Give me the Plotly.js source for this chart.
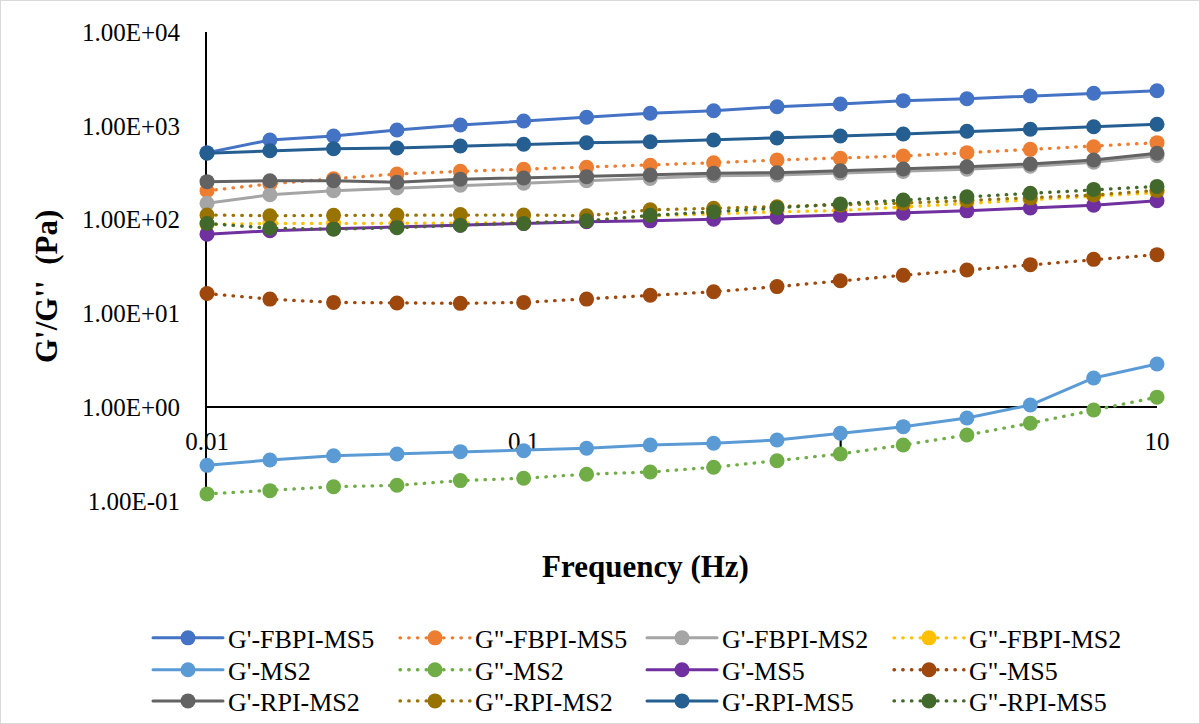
<!DOCTYPE html>
<html>
<head>
<meta charset="utf-8">
<script src="https://cdn.plot.ly/plotly-3.0.1.min.js"></script>
<style>
  html, body { margin: 0; padding: 0; background: #ffffff; }
  #wrap { position: relative; width: 1200px; height: 724px; }
  #chart { width: 1200px; height: 724px; }
  #frame { position: absolute; left: 0; top: 0; width: 1198px; height: 722px; border: 1px solid #d9d9d9; pointer-events: none; }
  #chart path.js-line { stroke-linecap: round; stroke-linejoin: round; }
</style>
</head>
<body>
<div id="wrap"><div id="chart"></div><div id="frame"></div></div>
<script>
// Frequency (Hz)
const freq = [0.01, 0.0158, 0.0251, 0.0398, 0.0631, 0.1, 0.158, 0.251, 0.398, 0.631, 1, 1.58, 2.51, 3.98, 6.31, 10];

// Series values (Pa)
const gp_FBPI_MS5  = [517, 706, 778, 902, 1020, 1125, 1233, 1359, 1449, 1599, 1708, 1853, 1945, 2078, 2222, 2367];
const gpp_FBPI_MS5 = [203, 240, 273, 306, 327, 344, 361, 379, 404, 432, 450, 477, 517, 561, 599, 661];
const gp_FBPI_MS2  = [149, 184, 203, 217, 232, 244, 260, 274, 294, 298, 313, 326, 345, 370, 408, 480];
const gpp_FBPI_MS2 = [89, 91, 91, 91, 92, 93, 96, 110, 116, 121, 125, 136, 149, 162, 179, 194];
const gp_MS2       = [0.240, 0.274, 0.304, 0.317, 0.336, 0.344, 0.365, 0.395, 0.412, 0.447, 0.527, 0.620, 0.767, 1.055, 2.05, 2.89];
const gpp_MS2      = [0.119, 0.129, 0.142, 0.147, 0.165, 0.175, 0.193, 0.204, 0.229, 0.269, 0.317, 0.395, 0.505, 0.674, 0.934, 1.28];
const gp_MS5       = [70, 76, 80, 84, 87, 91, 95, 97, 101, 106, 111, 117, 124, 133, 142, 159];
const gpp_MS5      = [16.3, 14.2, 13.1, 12.9, 12.8, 13.1, 14.2, 15.6, 17.0, 19.3, 22.3, 25.5, 29.0, 33.1, 37.7, 42.3];
const gp_RPI_MS2   = [254, 260, 260, 250, 269, 278, 287, 299, 312, 316, 332, 346, 366, 392, 432, 509];
const gpp_RPI_MS2  = [112, 110, 111, 112, 113, 112, 110, 127, 132, 137, 143, 150, 160, 170, 183, 205];
const gp_RPI_MS5   = [509, 543, 570, 580, 609, 635, 660, 677, 706, 741, 778, 818, 874, 918, 978, 1038];
const gpp_RPI_MS5  = [91, 81, 79, 82, 87, 91, 97, 111, 121, 133, 147, 162, 175, 191, 210, 226];

// Tick labels
const xTickVals = [0.01, 0.1, 1, 10];
const xTickText = ["0.01", "0.1", "1", "10"];
const yTickVals = [0.1, 1, 10, 100, 1000, 10000];
const yTickText = ["1.00E-01", "1.00E+00", "1.00E+01", "1.00E+02", "1.00E+03", "1.00E+04"];

const seriesNames = ["G'-FBPI-MS5", "G\"-FBPI-MS5", "G'-FBPI-MS2", "G\"-FBPI-MS2",
                     "G'-MS2", "G\"-MS2", "G'-MS5", "G\"-MS5",
                     "G'-RPI-MS2", "G\"-RPI-MS2", "G'-RPI-MS5", "G\"-RPI-MS5"];
const seriesData = [gp_FBPI_MS5, gpp_FBPI_MS5, gp_FBPI_MS2, gpp_FBPI_MS2,
                    gp_MS2, gpp_MS2, gp_MS5, gpp_MS5,
                    gp_RPI_MS2, gpp_RPI_MS2, gp_RPI_MS5, gpp_RPI_MS5];
const seriesColors = ["#4472C4", "#ED7D31", "#A5A5A5", "#FFC000",
                      "#5B9BD5", "#70AD47", "#7030A0", "#9E480E",
                      "#636363", "#997300", "#255E91", "#43682B"];
const legendIds = ["legend", "legend", "legend", "legend",
                   "legend2", "legend2", "legend2", "legend2",
                   "legend3", "legend3", "legend3", "legend3"];

const FONT = "Liberation Serif, Times New Roman, serif";

const traces = seriesNames.map((name, i) => {
  const dotted = name.indexOf('"') >= 0;
  return {
    type: "scatter",
    mode: "lines+markers",
    name: name,
    x: freq,
    y: seriesData[i],
    legend: legendIds[i],
    cliponaxis: false,
    line: { color: seriesColors[i], width: dotted ? 3.3 : 3, dash: dotted ? "0.5px,8.2px" : "solid" },
    marker: { color: seriesColors[i], size: 15, symbol: "circle" }
  };
});

function legendRow(y) {
  return {
    orientation: "h",
    x: -0.0621, xanchor: "left",
    y: y, yanchor: "middle",
    font: { family: FONT, size: 26, color: "#000000" },
    entrywidth: 162, entrywidthmode: "pixels",
    itemwidth: 70,
    bgcolor: "rgba(0,0,0,0)",
    borderwidth: 0,
    traceorder: "normal"
  };
}

const layout = {
  width: 1200, height: 724,
  margin: { l: 207, r: 43, t: 32, b: 223, autoexpand: false },
  paper_bgcolor: "#ffffff",
  plot_bgcolor: "#ffffff",
  font: { family: FONT, color: "#000000" },
  showlegend: true,
  xaxis: {
    type: "log", range: [-2, 1],
    tickvals: xTickVals, ticktext: xTickText,
    showgrid: false, zeroline: false,
    showline: true, linecolor: "#000000", linewidth: 2,
    ticks: "", ticklabelstandoff: 12,
    anchor: "free", position: 0.2,
    layer: "below traces",
    tickfont: { family: FONT, size: 25, color: "#000000" }
  },
  yaxis: {
    type: "log", range: [-1, 4],
    tickvals: yTickVals, ticktext: yTickText,
    showgrid: false, zeroline: false,
    showline: true, linecolor: "#000000", linewidth: 2,
    ticks: "", ticklabelstandoff: 20,
    layer: "below traces",
    tickfont: { family: FONT, size: 25, color: "#000000" }
  },
  legend: legendRow(-0.292),
  legend2: legendRow(-0.360),
  legend3: legendRow(-0.4264),
  annotations: [
    {
      text: "Frequency (Hz)",
      xref: "paper", yref: "paper",
      x: 0.4611, y: -0.1407, xanchor: "center", yanchor: "middle",
      showarrow: false,
      font: { family: FONT, size: 31, color: "#000000", weight: "bold" }
    },
    {
      text: "G'/G''\u00A0 (Pa)",
      xref: "paper", yref: "paper",
      x: -0.1684, y: 0.4563, xanchor: "center", yanchor: "middle",
      textangle: -90,
      showarrow: false,
      font: { family: FONT, size: 31, color: "#000000", weight: "bold" }
    }
  ]
};

Plotly.newPlot("chart", traces, layout, { displayModeBar: false, staticPlot: true });
</script>
</body>
</html>
